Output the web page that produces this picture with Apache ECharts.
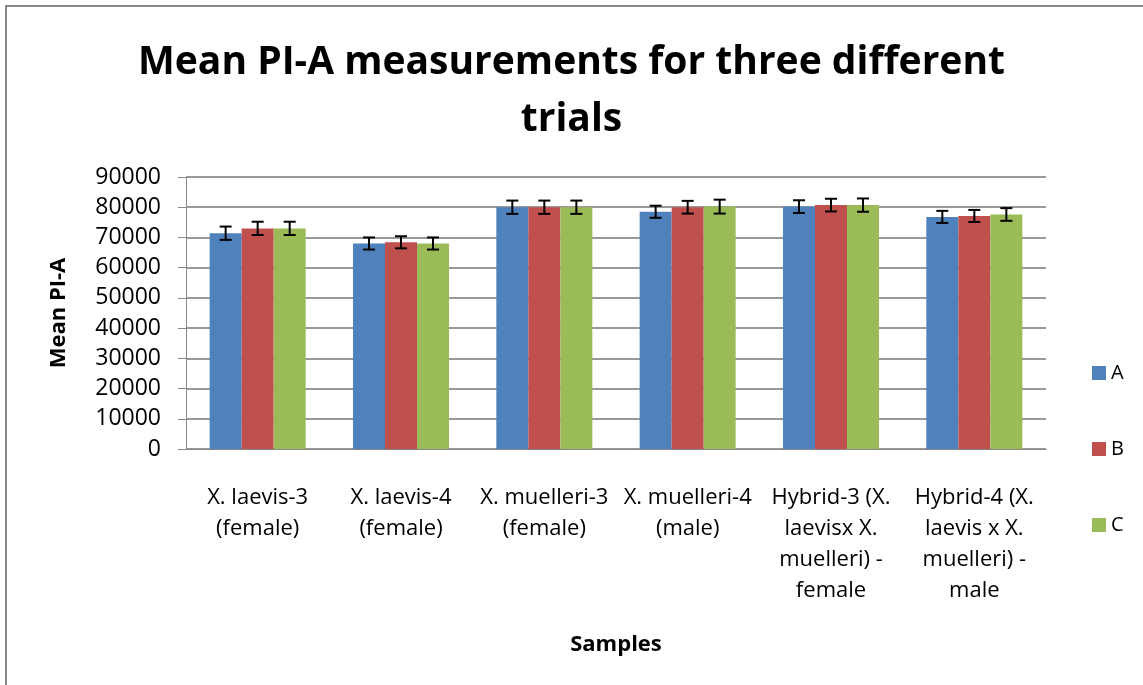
<!DOCTYPE html>
<html>
<head>
<meta charset="utf-8">
<script src="https://cdn.jsdelivr.net/npm/echarts@6/dist/echarts.min.js"></script>
<style>
  html, body { margin: 0; padding: 0; background: #fff; }
  #main { width: 1143px; height: 685px; }
</style>
</head>
<body>
<div id="main"></div>
<script>
var categories = [
  'X. laevis-3\n(female)',
  'X. laevis-4\n(female)',
  'X. muelleri-3\n(female)',
  'X. muelleri-4\n(male)',
  'Hybrid-3 (X.\nlaevisx X.\nmuelleri) -\nfemale',
  'Hybrid-4 (X.\nlaevis x X.\nmuelleri) -\nmale'
];
var seriesNames = ['A', 'B', 'C'];
var colors = ['#4f81bd', '#c0504d', '#9bbb59'];

var valuesA = [71400, 68000, 80000, 78500, 80200, 76800];
var valuesB = [73000, 68400, 80000, 80000, 80700, 77100];
var valuesC = [73000, 68000, 80000, 80200, 80700, 77600];

var errorsA = [2200, 2000, 2200, 2000, 2100, 2000];
var errorsB = [2200, 2000, 2200, 2100, 2100, 2000];
var errorsC = [2200, 2000, 2200, 2300, 2200, 2100];

var yTicks = { min: 0, max: 90000, interval: 10000 };

var allValues = [valuesA, valuesB, valuesC];
var allErrors = [errorsA, errorsB, errorsC];

var chart = echarts.init(document.getElementById('main'));

var font = 'Open Sans';
var catGap = 0.33;

function errorSeries(idx) {
  var data = [];
  for (var i = 0; i < categories.length; i++) {
    data.push([i, allValues[idx][i], allErrors[idx][i]]);
  }
  return {
    type: 'custom',
    name: seriesNames[idx] + '-err',
    z: 10,
    silent: true,
    data: data,
    encode: { x: 0, y: 1 },
    renderItem: function (params, api) {
      var x = api.value(0);
      var v = api.value(1);
      var e = api.value(2);
      var catW = api.size([1, 0])[0];
      var barW = catW * (1 - catGap) / 3;
      var center = api.coord([x, v]);
      var cx = center[0] + (idx - 1) * barW;
      var hi = api.coord([x, v + e])[1];
      var lo = api.coord([x, v - e])[1];
      var cap = 6;
      var style = { stroke: '#000', lineWidth: 2 };
      return {
        type: 'group',
        children: [
          { type: 'line', shape: { x1: cx, y1: hi, x2: cx, y2: lo }, style: style },
          { type: 'line', shape: { x1: cx - cap, y1: hi, x2: cx + cap, y2: hi }, style: style },
          { type: 'line', shape: { x1: cx - cap, y1: lo, x2: cx + cap, y2: lo }, style: style }
        ]
      };
    }
  };
}

var series = [];
for (var s = 0; s < 3; s++) {
  series.push({
    name: seriesNames[s],
    type: 'bar',
    data: allValues[s],
    barGap: '0%',
    barCategoryGap: '33%',
    itemStyle: { color: colors[s] }
  });
}
for (var s = 0; s < 3; s++) {
  series.push(errorSeries(s));
}

var option = {
  backgroundColor: '#fff',
  animation: false,
  color: colors,
  title: {
    text: 'Mean PI-A measurements for three different\ntrials',
    left: 'center',
    top: 29,
    padding: [5, 5, 5, 27],
    textStyle: {
      fontFamily: font,
      fontSize: 39,
      fontWeight: 'bold',
      color: '#000',
      lineHeight: 57
    }
  },
  legend: {
    data: seriesNames,
    orient: 'vertical',
    left: 1087,
    top: 358,
    itemWidth: 14,
    itemHeight: 14,
    itemGap: 56,
    icon: 'rect',
    textStyle: { fontFamily: font, fontSize: 20, color: '#000' }
  },
  grid: {
    left: 186,
    right: 97,
    top: 177,
    bottom: 236
  },
  xAxis: {
    type: 'category',
    data: categories,
    name: 'Samples',
    nameLocation: 'middle',
    nameGap: 185,
    nameTextStyle: { fontFamily: font, fontSize: 22, fontWeight: 'bold', color: '#000' },
    axisLine: { lineStyle: { color: '#888', width: 1 } },
    axisTick: { show: false },
    axisLabel: {
      interval: 0,
      margin: 33,
      fontFamily: font,
      fontSize: 22,
      lineHeight: 31,
      color: '#000'
    }
  },
  yAxis: {
    type: 'value',
    min: yTicks.min,
    max: yTicks.max,
    interval: yTicks.interval,
    name: 'Mean PI-A',
    nameLocation: 'middle',
    nameGap: 116,
    nameTextStyle: { fontFamily: font, fontSize: 22, fontWeight: 'bold', color: '#000' },
    axisLine: { show: true, lineStyle: { color: '#888', width: 1 } },
    axisTick: { show: true, length: 8, lineStyle: { color: '#888' } },
    axisLabel: {
      fontFamily: font,
      fontSize: 23,
      color: '#000',
      margin: 25,
      formatter: function (v) { return String(v); }
    },
    splitLine: { lineStyle: { color: '#999', width: 2 } }
  },
  graphic: [
    {
      type: 'polyline',
      shape: { points: [[6, 690], [6, 6], [1150, 6]] },
      style: { stroke: '#888', lineWidth: 2, fill: null }
    }
  ],
  series: series
};

chart.setOption(option);
</script>
</body>
</html>
